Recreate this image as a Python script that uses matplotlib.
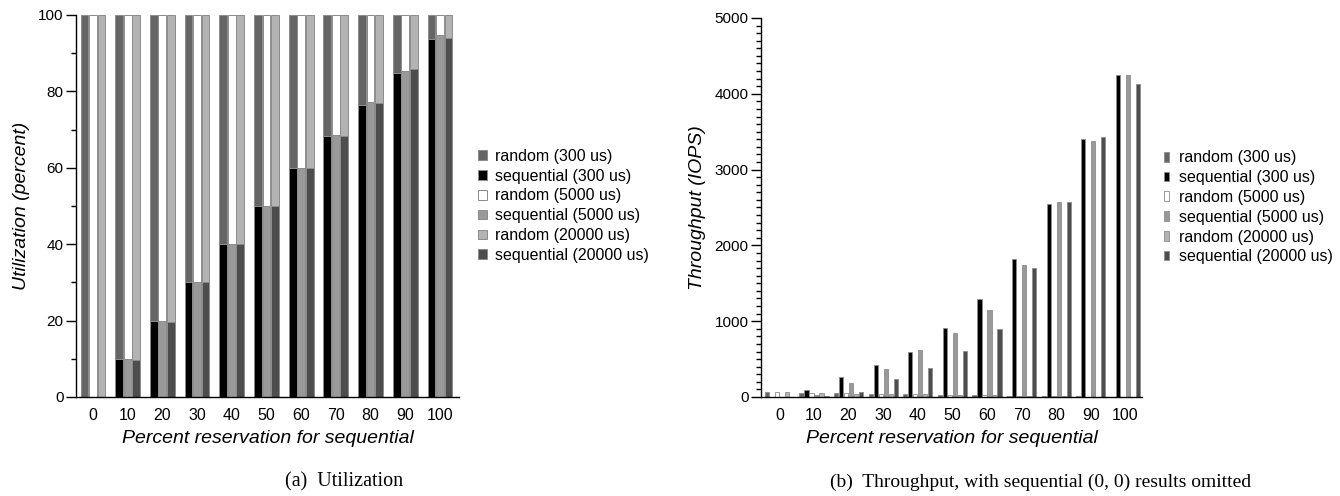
import numpy as np
import matplotlib
matplotlib.use("Agg")
import matplotlib.pyplot as plt
from matplotlib.ticker import MultipleLocator

plt.rcParams['font.family'] = ['Liberation Sans', 'DejaVu Sans']

# x categories
pct = [0, 10, 20, 30, 40, 50, 60, 70, 80, 90, 100]

# utilization (percent), stacked: sequential at bottom, random on top
util_seq_300 = [0, 10, 20, 30, 40, 50, 60, 68.4, 76.5, 84.8, 93.8]
util_rnd_300 = [100, 90, 80, 70, 60, 50, 40, 31.6, 23.5, 15.2, 6.2]
util_seq_5000 = [0, 10, 19.8, 30.1, 40, 50, 59.9, 68.6, 77.3, 85.4, 94.8]
util_rnd_5000 = [100, 90, 80.2, 69.9, 60, 50, 40.1, 31.4, 22.7, 14.6, 5.2]
util_seq_20000 = [0, 9.8, 19.7, 30, 40, 50, 60, 68.4, 76.9, 85.8, 94.1]
util_rnd_20000 = [100, 90.2, 80.3, 70, 60, 50, 40, 31.6, 23.1, 14.2, 5.9]

# throughput (IOPS); sequential at 0% omitted
tput_rnd_300 = [66, 57, 48, 42, 36, 30, 24, 18, 12, 8, 3]
tput_seq_300 = [0, 88, 268, 422, 598, 904, 1289, 1824, 2546, 3404, 4250]
tput_rnd_5000 = [66, 57, 48, 40, 34, 28, 22, 16, 10, 6, 2]
tput_seq_5000 = [0, 22, 189, 365, 620, 838, 1148, 1737, 2568, 3373, 4250]
tput_rnd_20000 = [66, 57, 46, 40, 34, 28, 22, 16, 10, 5, 2]
tput_seq_20000 = [0, 13, 70, 233, 378, 610, 893, 1702, 2568, 3426, 4130]

labels = ['random (300 us)', 'sequential (300 us)', 'random (5000 us)',
          'sequential (5000 us)', 'random (20000 us)', 'sequential (20000 us)']
colors = ['#666666', '#000000', '#ffffff', '#999999', '#b3b3b3', '#4d4d4d']
edge = '#8c8c8c'

x = np.arange(len(pct))

fig = plt.figure(figsize=(13.4, 4.96), dpi=100)
ax1 = fig.add_axes([76/1340, 1-397/496, (459-76)/1340, (397-15)/496])
ax2 = fig.add_axes([761/1340, 1-397/496, (1142-761)/1340, (397-18)/496])

# --- (a) utilization, stacked bars
slot = 0.245
bw = 0.225
pairs = [(util_seq_300, util_rnd_300, colors[1], colors[0]),
         (util_seq_5000, util_rnd_5000, colors[3], colors[2]),
         (util_seq_20000, util_rnd_20000, colors[5], colors[4])]
handles = {}
for k, (seq, rnd, cs, cr) in enumerate(pairs):
    pos = x + (k - 1) * slot
    hs = ax1.bar(pos, seq, bw, color=cs, edgecolor=edge, linewidth=0.7)
    hr = ax1.bar(pos, rnd, bw, bottom=seq, color=cr, edgecolor=edge, linewidth=0.7)
    handles[2*k] = hr
    handles[2*k+1] = hs

ax1.set_xlim(-0.49, 10.55)
ax1.set_ylim(0, 100)
ax1.yaxis.set_major_locator(MultipleLocator(20))
ax1.yaxis.set_minor_locator(MultipleLocator(10))
ax1.set_xticks(x)
ax1.set_xticklabels(pct)
ax1.set_ylabel('Utilization (percent)', style='italic', fontsize=14, labelpad=6)
ax1.set_xlabel('Percent reservation for sequential', style='italic', fontsize=14, labelpad=5)
ax1.legend([handles[i] for i in range(6)], labels, loc='center left',
           bbox_to_anchor=(0.357, 0.585), bbox_transform=fig.transFigure,
           frameon=False, fontsize=11.5, handlelength=0.55, handleheight=0.55,
           handletextpad=0.5, labelspacing=0.3, borderpad=0, borderaxespad=0)

# --- (b) throughput, grouped bars
series = [tput_rnd_300, tput_seq_300, tput_rnd_5000, tput_seq_5000,
          tput_rnd_20000, tput_seq_20000]
slot2 = 0.1445
bw2 = 0.12
bars2 = []
for k, vals in enumerate(series):
    b = ax2.bar(x + (k - 2.5) * slot2, vals, bw2, color=colors[k],
                edgecolor=edge, linewidth=0.6)
    bars2.append(b)

ax2.set_xlim(-0.53, 10.48)
ax2.set_ylim(0, 5000)
ax2.yaxis.set_major_locator(MultipleLocator(1000))
ax2.yaxis.set_minor_locator(MultipleLocator(100))
ax2.set_xticks(x)
ax2.set_xticklabels(pct)
ax2.set_ylabel('Throughput (IOPS)', style='italic', fontsize=14, labelpad=6)
ax2.set_xlabel('Percent reservation for sequential', style='italic', fontsize=14, labelpad=5)
ax2.legend(bars2, labels, loc='center left',
           bbox_to_anchor=(0.869, 0.582), bbox_transform=fig.transFigure,
           frameon=False, fontsize=11.5, handlelength=0.28, handleheight=0.55,
           handletextpad=0.6, labelspacing=0.3, borderpad=0, borderaxespad=0)

for ax in (ax1, ax2):
    for s in ('top', 'right'):
        ax.spines[s].set_visible(False)
    ax.spines['left'].set_linewidth(1.0)
    ax.spines['bottom'].set_linewidth(1.0)
    ax.tick_params(axis='y', which='major', length=7, width=1, labelsize=11, pad=2)
    ax.tick_params(axis='y', which='minor', length=3.5, width=1)
    ax.tick_params(axis='x', length=0, labelsize=11.5, pad=8)

fig.text(344/1340, 1-482/496, '(a)  Utilization', family='Liberation Serif',
         fontsize=14.5, ha='center', va='center')
fig.text(1041/1340, 1-482/496, '(b)  Throughput, with sequential (0, 0) results omitted',
         family='Liberation Serif', fontsize=14, ha='center', va='center')

fig.savefig('out.png', dpi=100)
